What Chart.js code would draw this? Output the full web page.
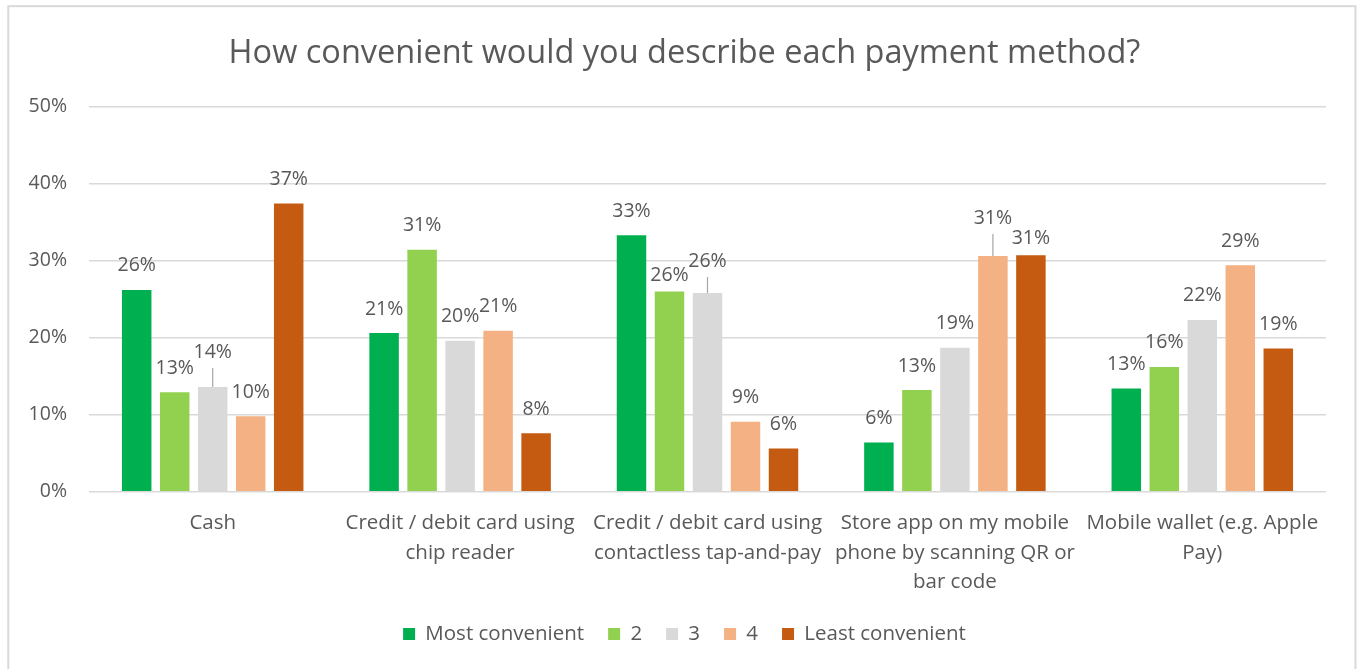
<!DOCTYPE html>
<html>
<head>
<meta charset="utf-8">
<script src="https://cdn.jsdelivr.net/npm/chart.js@4"></script>
<style>
  html, body { margin: 0; padding: 0; background: #ffffff; }
  #wrap { width: 1359px; height: 669px; position: relative; }
</style>
</head>
<body>
<div id="wrap"><canvas id="chart" width="1359" height="669"></canvas></div>
<script>
// Payment methods (x categories, pre-wrapped into lines)
const categories = [
  ['Cash'],
  ['Credit / debit card using', 'chip reader'],
  ['Credit / debit card using', 'contactless tap-and-pay'],
  ['Store app on my mobile', 'phone by scanning QR or', 'bar code'],
  ['Mobile wallet (e.g. Apple', 'Pay)']
];

// Rating series, share of respondents in %
const seriesNames = ['Most convenient', '2', '3', '4', 'Least convenient'];
const mostConvenient  = [26.2, 20.6, 33.3, 6.4, 13.4];
const rank2           = [12.9, 31.4, 26.0, 13.2, 16.2];
const rank3           = [13.6, 19.6, 25.8, 18.7, 22.3];
const rank4           = [9.8, 20.9, 9.1, 30.6, 29.4];
const leastConvenient = [37.4, 7.6, 5.6, 30.7, 18.6];

// Value axis ticks (%)
const yTicks = [0, 10, 20, 30, 40, 50];

const seriesColors = ['#00b050', '#92d050', '#d9d9d9', '#f4b183', '#c55a11'];
const textColor = '#595959';
const fontFamily = '"Open Sans", "Noto Sans", sans-serif';

// Vertical nudges (px) for labels that would collide; key = "series:category"
const labelNudge = { '2:0': -11, '1:2': 8, '2:2': -8, '3:3': -14, '4:3': 7 };

const frame = {
  id: 'frame',
  beforeDraw(chart) {
    const ctx = chart.ctx;
    ctx.save();
    ctx.fillStyle = '#ffffff';
    ctx.fillRect(0, 0, chart.width, chart.height);
    ctx.strokeStyle = '#d9d9d9';
    ctx.lineWidth = 2;
    ctx.strokeRect(8.3, 6.2, 1347.2, 700);
    ctx.restore();
  }
};

// Center title and legend over the plot frame rather than the whole canvas
const centerBlocks = {
  id: 'centerBlocks',
  afterLayout(chart) {
    if (chart.titleBlock) chart.titleBlock.left = 43;
    if (chart.legend) chart.legend.left = 43;
  }
};

const valueLabels = {
  id: 'valueLabels',
  afterDatasetsDraw(chart) {
    const ctx = chart.ctx;
    ctx.save();
    ctx.font = '19.5px ' + fontFamily;
    ctx.fillStyle = textColor;
    ctx.textAlign = 'center';
    ctx.textBaseline = 'middle';
    chart.data.datasets.forEach((ds, di) => {
      const meta = chart.getDatasetMeta(di);
      meta.data.forEach((bar, i) => {
        const nudge = labelNudge[di + ':' + i] || 0;
        const cy = bar.y - 24 + nudge;
        ctx.fillText(Math.round(ds.data[i]) + '%', bar.x, cy);
        if (nudge < -5) {
          ctx.strokeStyle = '#a6a6a6';
          ctx.lineWidth = 1.2;
          ctx.beginPath();
          ctx.moveTo(bar.x, cy + 16);
          ctx.lineTo(bar.x, bar.y);
          ctx.stroke();
        }
      });
    });
    ctx.restore();
  }
};

const seriesData = [mostConvenient, rank2, rank3, rank4, leastConvenient];

new Chart(document.getElementById('chart'), {
  type: 'bar',
  data: {
    labels: categories,
    datasets: seriesNames.map((name, k) => ({
      label: name,
      data: seriesData[k],
      backgroundColor: seriesColors[k],
      borderWidth: 0,
      categoryPercentage: 0.768,
      barPercentage: 0.776
    }))
  },
  options: {
    responsive: false,
    animation: false,
    devicePixelRatio: 1,
    layout: { padding: { left: 10, right: 33, top: 0, bottom: 14.75 } },
    plugins: {
      title: {
        display: true,
        text: 'How convenient would you describe each payment method?',
        color: textColor,
        font: { family: fontFamily, size: 32.5, weight: 'normal' },
        padding: { top: 34.5, bottom: 33 }
      },
      legend: {
        position: 'bottom',
        labels: {
          color: textColor,
          font: { family: fontFamily, size: 20.5 },
          boxWidth: 12,
          boxHeight: 12,
          padding: 24
        }
      },
      tooltip: { enabled: false }
    },
    scales: {
      x: {
        grid: { display: false },
        border: { display: false },
        ticks: {
          color: textColor,
          font: { family: fontFamily, size: 20.5, lineHeight: 1.44 },
          maxRotation: 0,
          autoSkip: false,
          padding: 9
        },
        afterFit(scale) { scale.height = 108; }
      },
      y: {
        min: 0,
        max: 50,
        afterBuildTicks(scale) { scale.ticks = yTicks.map(v => ({ value: v })); },
        grid: { color: '#d9d9d9', lineWidth: 1.5, drawTicks: false },
        border: { display: false },
        ticks: {
          color: textColor,
          font: { family: fontFamily, size: 19.5 },
          padding: 22,
          callback: (v, i) => yTicks[i] + '%'
        },
        afterFit(scale) { scale.width = 79; }
      }
    }
  },
  plugins: [frame, centerBlocks, valueLabels]
});
</script>
</body>
</html>
